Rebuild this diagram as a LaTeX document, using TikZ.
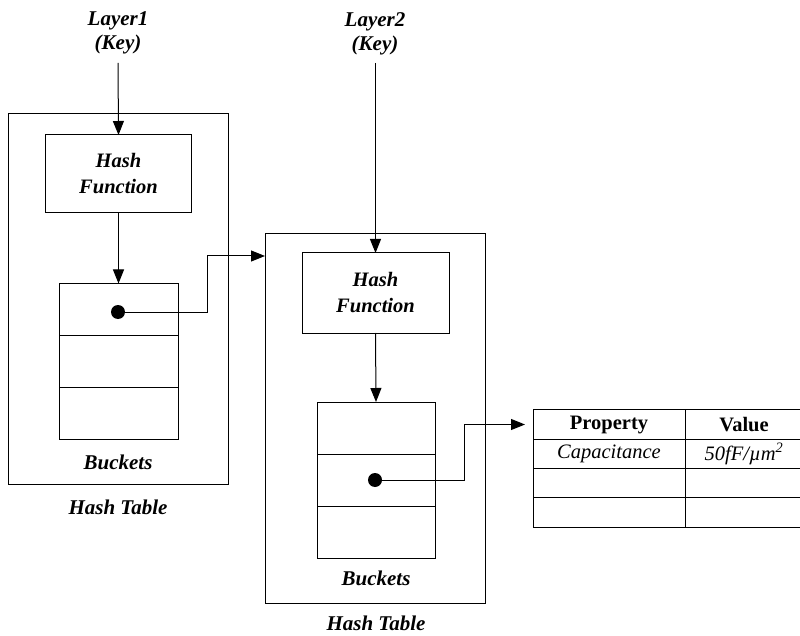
\documentclass[tikz,border=0pt]{standalone}
\usepackage{fontspec}
\setmainfont{Liberation Serif}
\usetikzlibrary{arrows.meta}
\begin{document}
\begin{tikzpicture}[x=1pt,y=-1pt,
  box/.style={draw, line width=1pt, inner sep=0pt, outer sep=0pt},
  lbl/.style={font=\fontsize{21}{24}\selectfont\bfseries\itshape, align=center, inner sep=0pt},
  hflbl/.style={font=\fontsize{20.5}{26}\selectfont\bfseries\itshape, align=center},
  arr/.style={line width=1pt, -{Triangle[length=14pt,width=11pt]}},
  dotn/.style={circle, fill=black, inner sep=0pt, minimum size=14pt},
  cell/.style={draw, line width=1pt, minimum height=29.3pt, inner sep=0pt, outer sep=0pt, font=\fontsize{20.5}{22}\selectfont}]
\useasboundingbox (0,0) rectangle (800,636);
\clip (0,0) rectangle (800,636);

% ---------- Hash table 1 ----------
\node[lbl] (L1) at (118,33) {Layer1\\(Key)};
\coordinate (l1s) at (118,63);
\node[box, minimum width=220pt, minimum height=370pt] (ht1) at (118,299) {};
\node[box, hflbl, minimum width=146pt, minimum height=78pt] (hf1) at (118.5,174) {Hash\\Function};
\node[box, minimum width=119pt, minimum height=52pt] (b1a) at (118.5,309.5) {};
\node[box, minimum width=119pt, minimum height=51.5pt] (b1b) at (118.5,361.25) {};
\node[box, minimum width=119pt, minimum height=52pt] (b1c) at (118.5,413) {};
\node[dotn] (d1) at (118,312) {};
\node[lbl] (bk1) at (118,462) {Buckets};
\node[lbl] (ht1l) at (118,507) {Hash Table};
\draw[arr] (l1s) -- (hf1.north);
\draw[arr] (hf1.south) -- (b1a.north);

% ---------- Hash table 2 ----------
\node[lbl] (L2) at (375,34) {Layer2\\(Key)};
\coordinate (l2s) at (375.5,63);
\node[box, minimum width=220pt, minimum height=369pt] (ht2) at (375,418.5) {};
\node[box, hflbl, minimum width=147pt, minimum height=80pt] (hf2) at (375.5,293) {Hash\\Function};
\node[box, minimum width=118pt, minimum height=52pt] (b2a) at (376,428) {};
\node[box, minimum width=118pt, minimum height=52pt] (b2b) at (376,480) {};
\node[box, minimum width=118pt, minimum height=52pt] (b2c) at (376,532) {};
\node[dotn] (d2) at (375,480) {};
\node[lbl] (bk2) at (376,578) {Buckets};
\node[lbl] (ht2l) at (376,623) {Hash Table};
\draw[arr] (l2s) -- (hf2.north);
\draw[arr] (hf2.south) -- (b2a.north);

% pointer from table 1 to table 2
\coordinate (k1) at (207,256);
\draw[arr] (d1.center) -| (k1) -- (k1 -| ht2.west);

% ---------- property table ----------
\node[cell, minimum width=152pt, font=\fontsize{20.5}{22}\selectfont\bfseries] (p1) at (609,424.5) {Property};
\node[cell, minimum width=118pt, font=\fontsize{20.5}{22}\selectfont\bfseries] (v1) at (744,424.5) {Value};
\node[cell, minimum width=152pt, font=\fontsize{20.5}{22}\selectfont\itshape] (p2) at (609,453.8) {Capacitance};
\node[cell, minimum width=118pt, font=\fontsize{20.5}{22}\selectfont\itshape] (v2) at (744,453.8) {50fF/µm\textsuperscript{2}};
\node[cell, minimum width=152pt] (p3) at (609,483.1) {};
\node[cell, minimum width=118pt] (v3) at (744,483.1) {};
\node[cell, minimum width=152pt] (p4) at (609,512.4) {};
\node[cell, minimum width=118pt] (v4) at (744,512.4) {};

\coordinate (k2) at (464,424.5);
\draw[arr, shorten >=8pt] (d2.center) -| (k2) -- (k2 -| p1.west);
\end{tikzpicture}
\end{document}
